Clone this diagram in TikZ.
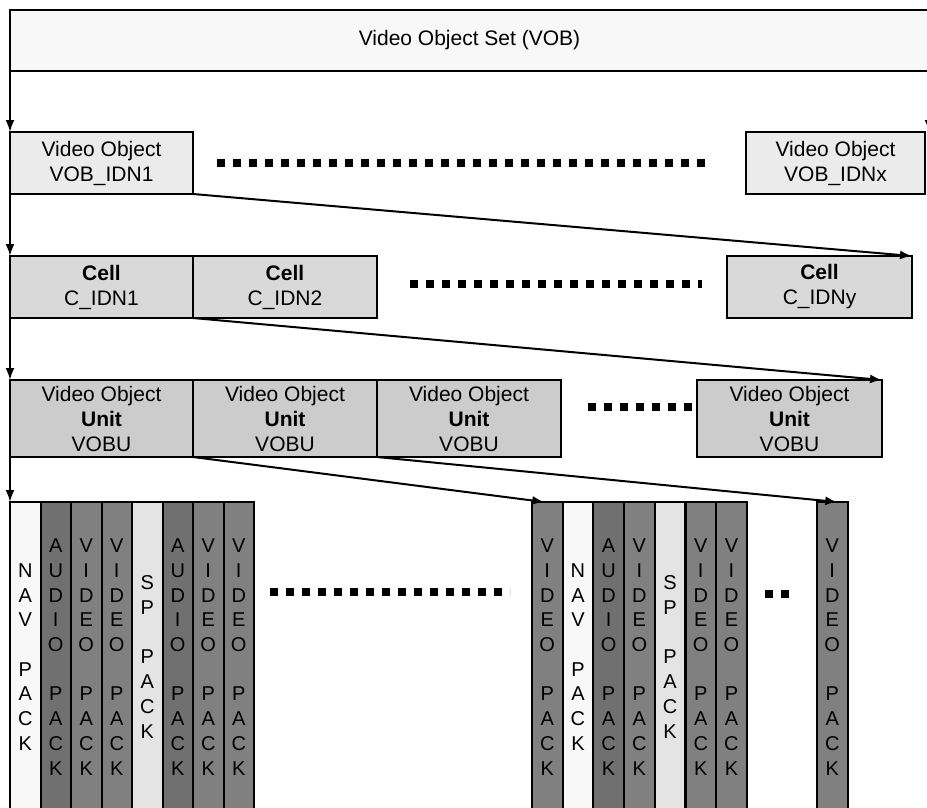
\documentclass[tikz,border=0pt]{standalone}
\usepackage{fontspec}
\setmainfont{Liberation Sans}
\usetikzlibrary{arrows.meta,positioning,calc}
\definecolor{setfill}{HTML}{F8F8F8}
\definecolor{vobfill}{HTML}{EBEBEB}
\definecolor{cellfill}{HTML}{D9D9D9}
\definecolor{unitfill}{HTML}{CCCCCC}
\definecolor{navfill}{HTML}{F8F8F8}
\definecolor{audiofill}{HTML}{707070}
\definecolor{videofill}{HTML}{808080}
\definecolor{spfill}{HTML}{E4E4E4}
\newcommand\navtxt{N\\A\\V\\\mbox{}\\P\\A\\C\\K}
\newcommand\audiotxt{A\\U\\D\\I\\O\\\mbox{}\\P\\A\\C\\K}
\newcommand\videotxt{V\\I\\D\\E\\O\\\mbox{}\\P\\A\\C\\K}
\newcommand\sptxt{S\\P\\\mbox{}\\P\\A\\C\\K}
\tikzset{
  box/.style={draw, line width=2pt, outer sep=0pt, inner sep=0pt, anchor=north west, minimum height=62pt,
              align=center, font=\fontsize{21}{25}\selectfont},
  vobox/.style={box, fill=vobfill, minimum width=183pt},
  cellbox/.style={box, fill=cellfill, minimum width=184pt},
  unitbox/.style={box, fill=unitfill, minimum width=184pt, minimum height=77pt},
  pack/.style={draw, line width=2pt, outer sep=0pt, inner sep=0pt, anchor=north west, minimum width=30.5pt,
               minimum height=310pt, text width=30pt, align=center, font=\fontsize{20}{24.7}\selectfont},
  arr/.style={-{Latex[length=12pt,width=9pt]}, line width=2pt},
  dots/.style={line width=8pt, dash pattern=on 8pt off 8pt}
}
\begin{document}
\begin{tikzpicture}[x=1pt, y=-1pt]
\useasboundingbox (0,0) rectangle (927,807);
\clip (0,0) rectangle (927,807);
\fill[white] (0,0) rectangle (927,807);
\node[box, fill=setfill, minimum width=919pt, minimum height=61pt] (vset) at (10,10) {Video Object Set (VOB)};
\node[vobox] (vob1) at (10,132) {Video Object\\VOB\_IDN1};
\node[vobox, minimum width=179pt] (vobx) at (746,132) {Video Object\\VOB\_IDNx};
\node[cellbox, minimum width=183pt] (c1) at (10,256) {\textbf{Cell}\\C\_IDN1};
\node[cellbox, right=0pt of c1] (c2) {\textbf{Cell}\\C\_IDN2};
\node[cellbox, minimum width=185pt] (cy) at (727,256) {\textbf{Cell}\\C\_IDNy};
\node[unitbox, minimum width=183pt] (u1) at (10,380) {Video Object\\\textbf{Unit}\\VOBU};
\node[unitbox, right=0pt of u1] (u2) {Video Object\\\textbf{Unit}\\VOBU};
\node[unitbox, right=0pt of u2] (u3) {Video Object\\\textbf{Unit}\\VOBU};
\node[unitbox, minimum width=185pt] (uz) at (697,380) {Video Object\\\textbf{Unit}\\VOBU};
\foreach \c/\t [count=\i from 0] in {navfill/\navtxt, audiofill/\audiotxt, videofill/\videotxt, videofill/\videotxt,
                                     spfill/\sptxt, audiofill/\audiotxt, videofill/\videotxt, videofill/\videotxt}
  \node[pack, fill=\c] (pa\i) at ({10+30.5*\i},502) {\t};
\foreach \c/\t [count=\i from 0] in {videofill/\videotxt, navfill/\navtxt, audiofill/\audiotxt, videofill/\videotxt,
                                     spfill/\sptxt, videofill/\videotxt, videofill/\videotxt}
  \node[pack, fill=\c] (pb\i) at ({532+30.7*\i},502) {\t};
\node[pack, fill=videofill] (pc) at (817,502) {\videotxt};
\draw[arr] (vset.north west) -- (vob1.north west);
\draw[arr] (vset.north east) -- (vset.north east |- vobx.north);
\draw[arr] (vob1.south west) -- (c1.north west);
\draw[arr] (vob1.south east) -- (cy.north east);
\draw[arr] (c1.south west) -- (u1.north west);
\draw[arr] (c1.south east) -- (uz.north east);
\draw[arr] (u1.south west) -- (pa0.north west);
\draw[arr] (u1.south east) -- ([xshift=-3pt]pb0.north);
\draw[arr] (u2.south east) -- ([xshift=5pt]pc.north);
\draw[dots] ([xshift=24pt]vob1.east) -- ([xshift=-39pt]vobx.west);
\draw[dots] ([xshift=33pt,yshift=3pt]c2.east) -- ([xshift=-25pt,yshift=3pt]cy.west);
\draw[dots] ([xshift=27pt,yshift=11.5pt]u3.east) -- ([yshift=11.5pt]uz.west);
\draw[dots] ([xshift=16pt,yshift=65pt]pa7.east) -- ([xshift=-22pt,yshift=65pt]pb0.west);
\draw[dots] ([xshift=18pt,yshift=63pt]pb6.east) -- ([xshift=-27pt,yshift=63pt]pc.west);
\end{tikzpicture}
\end{document}
